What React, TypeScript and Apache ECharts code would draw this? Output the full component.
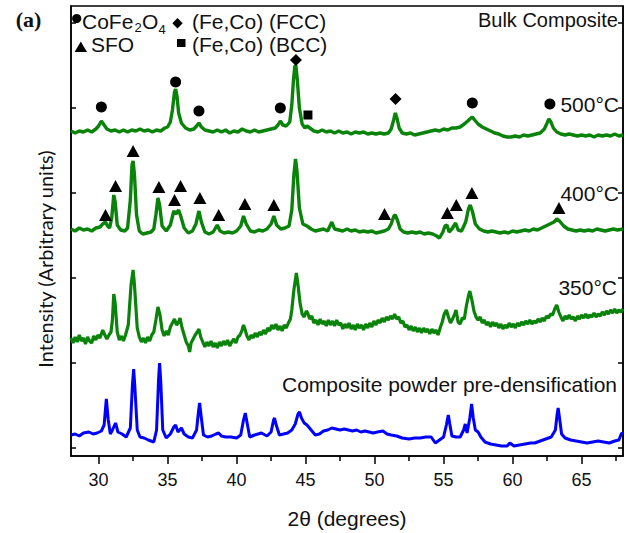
import React, { useEffect, useRef } from "react";
import * as echarts from "echarts";

// 2θ range and ticks
const X_MIN = 28;
const X_MAX = 68;
const xMajorTicks = [30, 35, 40, 45, 50, 55, 60, 65];
const xMinorTicks = [32.5, 37.5, 42.5, 47.5, 52.5, 57.5, 62.5, 67.5];
const Y_MIN = 0;
const Y_MAX = 450;
const yTicks = [8, 93, 178, 263, 348, 433];

// Intensity (arbitrary units, stacked offsets included) vs 2θ
const bulk500: [number, number][] = [
  [28.0, 325], [28.3, 323], [28.6, 325], [28.9, 324], [29.2, 326], [29.5, 324], [29.8, 327], [30.0, 330], [30.2, 335], [30.4, 331],
  [30.6, 327], [30.9, 325], [31.2, 326], [31.5, 324], [31.8, 326], [32.1, 324], [32.4, 326], [32.7, 325], [33.0, 327], [33.3, 325],
  [33.6, 326], [33.9, 324], [34.2, 326], [34.5, 325], [34.8, 328], [35.0, 329], [35.2, 334], [35.35, 346], [35.5, 364], [35.58, 367],
  [35.68, 360], [35.8, 343], [36.0, 333], [36.3, 328], [36.6, 326], [36.9, 327], [37.1, 330], [37.27, 333], [37.45, 329], [37.7, 326],
  [38.0, 325], [38.3, 324], [38.6, 326], [38.9, 324], [39.2, 326], [39.5, 323], [39.8, 325], [40.1, 324], [40.4, 327], [40.7, 325],
  [41.0, 324], [41.3, 326], [41.6, 324], [41.9, 325], [42.2, 326], [42.5, 327], [42.8, 328], [43.0, 331], [43.17, 335], [43.35, 331],
  [43.6, 330], [43.85, 334], [44.0, 351], [44.12, 376], [44.22, 390], [44.3, 390], [44.4, 376], [44.55, 348], [44.75, 332], [44.95, 328],
  [45.1, 330], [45.3, 328], [45.6, 325], [45.9, 324], [46.2, 326], [46.5, 324], [46.8, 325], [47.1, 323], [47.4, 325], [47.7, 323],
  [48.0, 324], [48.3, 322], [48.6, 324], [48.9, 323], [49.2, 324], [49.5, 322], [49.8, 323], [50.1, 322], [50.4, 323], [50.7, 322],
  [51.0, 323], [51.2, 327], [51.38, 336], [51.5, 343], [51.62, 338], [51.78, 328], [52.0, 323], [52.3, 322], [52.6, 323], [52.9, 321],
  [53.2, 322], [53.5, 323], [53.8, 324], [54.1, 325], [54.4, 326], [54.7, 325], [55.0, 327], [55.3, 326], [55.6, 328], [55.9, 328],
  [56.2, 329], [56.5, 332], [56.75, 335], [56.9, 337], [57.08, 339], [57.25, 336], [57.5, 332], [57.8, 329], [58.1, 327], [58.4, 325],
  [58.7, 323], [59.0, 322], [59.3, 320], [59.6, 319], [59.9, 319], [60.2, 320], [60.5, 319], [60.8, 321], [61.1, 320], [61.4, 321],
  [61.7, 322], [62.0, 323], [62.3, 327], [62.5, 333], [62.63, 337], [62.78, 334], [62.95, 328], [63.2, 324], [63.5, 322], [63.8, 321],
  [64.1, 322], [64.4, 321], [64.7, 320], [65.0, 321], [65.3, 320], [65.6, 321], [65.9, 319], [66.2, 321], [66.5, 320], [66.8, 321],
  [67.1, 320], [67.4, 322], [67.7, 320], [68.0, 321],
];

const bulk400: [number, number][] = [
  [28.0, 227], [28.3, 225], [28.6, 228], [28.9, 226], [29.2, 227], [29.5, 225], [29.8, 228], [30.1, 229], [30.3, 232], [30.5, 234],
  [30.65, 230], [30.8, 228], [30.95, 238], [31.1, 261], [31.2, 254], [31.35, 231], [31.6, 226], [31.9, 225], [32.1, 228], [32.3, 256],
  [32.42, 291], [32.5, 295], [32.6, 281], [32.75, 241], [32.95, 225], [33.2, 222], [33.5, 223], [33.8, 224], [34.0, 227], [34.15, 241],
  [34.3, 258], [34.42, 251], [34.6, 230], [34.9, 225], [35.2, 231], [35.45, 245], [35.6, 242], [35.8, 246], [35.95, 240], [36.2, 228],
  [36.5, 223], [36.8, 225], [37.05, 232], [37.27, 245], [37.45, 234], [37.7, 224], [38.0, 222], [38.3, 224], [38.6, 231], [38.8, 225],
  [39.1, 223], [39.4, 224], [39.7, 223], [40.0, 225], [40.3, 230], [40.5, 240], [40.7, 232], [41.0, 225], [41.3, 224], [41.6, 226],
  [41.9, 225], [42.2, 227], [42.5, 232], [42.7, 240], [42.9, 231], [43.2, 227], [43.5, 228], [43.8, 230], [44.0, 246], [44.15, 281],
  [44.27, 297], [44.38, 284], [44.55, 248], [44.8, 232], [45.1, 230], [45.4, 227], [45.7, 225], [46.0, 226], [46.3, 227], [46.6, 225],
  [46.9, 234], [47.1, 227], [47.4, 226], [47.7, 225], [48.0, 227], [48.3, 225], [48.6, 226], [48.9, 224], [49.2, 225], [49.5, 224],
  [49.8, 225], [50.1, 223], [50.4, 224], [50.7, 225], [51.0, 227], [51.2, 232], [51.4, 240], [51.5, 241], [51.65, 236], [51.85, 227],
  [52.1, 224], [52.4, 223], [52.7, 224], [53.0, 223], [53.3, 224], [53.6, 222], [53.9, 223], [54.2, 222], [54.5, 220], [54.7, 218],
  [54.95, 224], [55.1, 230], [55.24, 231], [55.4, 224], [55.6, 227], [55.87, 233], [56.05, 226], [56.3, 225], [56.6, 234], [56.8, 247],
  [56.93, 251], [57.1, 244], [57.3, 232], [57.6, 227], [57.9, 225], [58.2, 224], [58.5, 225], [58.8, 224], [59.1, 223], [59.4, 224],
  [59.7, 223], [60.0, 225], [60.3, 224], [60.6, 225], [60.9, 226], [61.2, 225], [61.5, 227], [61.8, 226], [62.1, 228], [62.4, 230],
  [62.7, 232], [63.0, 234], [63.2, 237], [63.4, 235], [63.7, 230], [64.0, 227], [64.3, 226], [64.6, 225], [64.9, 226], [65.2, 225],
  [65.5, 226], [65.8, 225], [66.1, 227], [66.4, 226], [66.7, 225], [67.0, 226], [67.3, 227], [67.6, 226], [68.0, 227],
];

const bulk350: [number, number][] = [
  [28.0, 118], [28.15, 113], [28.3, 119], [28.45, 114], [28.6, 121], [28.75, 115], [28.9, 118], [29.05, 112], [29.2, 119], [29.35, 115],
  [29.5, 113], [29.65, 120], [29.8, 116], [29.95, 121], [30.1, 118], [30.3, 126], [30.45, 121], [30.6, 117], [30.75, 121], [30.9, 124],
  [31.0, 136], [31.1, 162], [31.2, 153], [31.35, 124], [31.5, 116], [31.65, 120], [31.8, 115], [31.95, 121], [32.15, 131], [32.35, 171],
  [32.5, 186], [32.6, 171], [32.8, 128], [32.95, 119], [33.1, 114], [33.25, 118], [33.4, 113], [33.55, 119], [33.7, 115], [33.85, 121],
  [34.0, 124], [34.15, 136], [34.3, 149], [34.45, 141], [34.6, 126], [34.75, 120], [34.9, 125], [35.05, 121], [35.2, 129], [35.35, 133],
  [35.5, 137], [35.65, 131], [35.8, 134], [35.9, 138], [36.05, 128], [36.2, 121], [36.35, 114], [36.5, 110], [36.6, 104], [36.7, 113],
  [36.85, 117], [37.0, 121], [37.15, 124], [37.27, 127], [37.4, 119], [37.55, 114], [37.7, 109], [37.85, 114], [38.0, 110], [38.15, 115],
  [38.3, 109], [38.45, 113], [38.6, 108], [38.75, 114], [38.9, 110], [39.05, 115], [39.2, 111], [39.35, 116], [39.5, 110], [39.65, 114],
  [39.8, 117], [39.95, 113], [40.1, 119], [40.25, 121], [40.4, 126], [40.5, 131], [40.6, 127], [40.75, 120], [40.9, 116], [41.05, 121],
  [41.2, 118], [41.35, 123], [41.5, 119], [41.65, 124], [41.8, 121], [41.95, 126], [42.1, 122], [42.25, 128], [42.4, 125], [42.55, 131],
  [42.7, 127], [42.85, 132], [43.0, 126], [43.15, 130], [43.3, 125], [43.45, 131], [43.6, 128], [43.75, 133], [43.9, 137], [44.0, 146],
  [44.15, 166], [44.33, 183], [44.45, 171], [44.6, 153], [44.75, 142], [44.9, 139], [45.05, 145], [45.15, 143], [45.3, 137], [45.45, 140],
  [45.6, 133], [45.75, 136], [45.9, 131], [46.05, 137], [46.2, 132], [46.35, 135], [46.5, 130], [46.65, 136], [46.8, 131], [46.95, 135],
  [47.1, 130], [47.25, 136], [47.4, 131], [47.55, 133], [47.7, 127], [47.85, 132], [48.0, 128], [48.15, 133], [48.3, 127], [48.45, 131],
  [48.6, 126], [48.75, 132], [48.9, 128], [49.05, 131], [49.2, 126], [49.35, 132], [49.5, 128], [49.65, 133], [49.8, 129], [49.95, 135],
  [50.1, 131], [50.25, 136], [50.4, 133], [50.55, 138], [50.7, 134], [50.85, 139], [51.0, 136], [51.15, 140], [51.3, 137], [51.45, 142],
  [51.6, 137], [51.75, 139], [51.9, 133], [52.05, 135], [52.2, 129], [52.35, 131], [52.5, 126], [52.65, 130], [52.8, 125], [52.95, 129],
  [53.1, 124], [53.25, 128], [53.4, 123], [53.55, 128], [53.7, 124], [53.85, 127], [54.0, 122], [54.15, 127], [54.3, 123], [54.45, 126],
  [54.6, 121], [54.75, 128], [54.9, 134], [55.05, 142], [55.2, 146], [55.35, 139], [55.5, 133], [55.65, 137], [55.8, 142], [55.9, 146],
  [56.05, 134], [56.2, 132], [56.35, 138], [56.5, 137], [56.65, 150], [56.8, 160], [56.9, 165], [57.05, 156], [57.2, 145], [57.35, 139],
  [57.5, 136], [57.65, 139], [57.8, 133], [57.95, 136], [58.1, 131], [58.25, 134], [58.4, 129], [58.55, 134], [58.7, 130], [58.85, 133],
  [59.0, 128], [59.15, 132], [59.3, 127], [59.45, 131], [59.6, 128], [59.75, 133], [59.9, 129], [60.05, 132], [60.2, 128], [60.35, 133],
  [60.5, 130], [60.65, 134], [60.8, 131], [60.95, 135], [61.1, 132], [61.25, 136], [61.4, 132], [61.55, 135], [61.7, 133], [61.85, 137],
  [62.0, 134], [62.15, 138], [62.3, 135], [62.45, 140], [62.6, 138], [62.75, 142], [62.9, 141], [63.05, 147], [63.2, 151], [63.35, 144],
  [63.5, 139], [63.65, 135], [63.8, 140], [63.95, 137], [64.1, 141], [64.25, 137], [64.4, 139], [64.55, 135], [64.7, 140], [64.85, 137],
  [65.0, 141], [65.15, 138], [65.3, 142], [65.45, 138], [65.6, 141], [65.75, 139], [65.9, 143], [66.05, 139], [66.2, 142], [66.35, 140],
  [66.5, 144], [66.65, 141], [66.8, 145], [66.95, 142], [67.1, 146], [67.25, 143], [67.4, 147], [67.55, 143], [67.7, 146], [67.85, 144],
  [68.0, 147],
];

const powder: [number, number][] = [
  [28.0, 21], [28.3, 22], [28.6, 20], [28.9, 23], [29.3, 24], [29.6, 22], [29.9, 23], [30.2, 25], [30.4, 31], [30.56, 57],
  [30.7, 36], [30.85, 22], [31.0, 26], [31.23, 33], [31.4, 24], [31.7, 22], [32.0, 19], [32.3, 28], [32.45, 71], [32.54, 87],
  [32.62, 71], [32.8, 26], [33.0, 19], [33.3, 18], [33.6, 16], [34.0, 14], [34.2, 26], [34.35, 78], [34.42, 93], [34.5, 76],
  [34.65, 26], [34.9, 18], [35.2, 22], [35.45, 29], [35.58, 31], [35.75, 24], [36.0, 28], [36.2, 22], [36.5, 19], [36.8, 18],
  [37.1, 26], [37.25, 46], [37.32, 53], [37.42, 41], [37.6, 21], [37.9, 19], [38.2, 20], [38.5, 22], [38.7, 23], [38.9, 20],
  [39.2, 19], [39.6, 19], [40.0, 18], [40.3, 21], [40.5, 36], [40.63, 43], [40.75, 34], [40.95, 19], [41.3, 21], [41.8, 23],
  [42.2, 20], [42.5, 24], [42.68, 36], [42.75, 38], [42.85, 32], [43.1, 21], [43.4, 22], [43.7, 23], [44.0, 26], [44.25, 32],
  [44.45, 42], [44.56, 44], [44.7, 38], [44.9, 33], [45.1, 31], [45.4, 26], [45.7, 21], [46.0, 22], [46.3, 25], [46.6, 26],
  [46.9, 28], [47.2, 27], [47.5, 26], [47.8, 27], [48.1, 26], [48.4, 25], [48.7, 26], [49.0, 24], [49.3, 25], [49.6, 24],
  [49.9, 23], [50.2, 24], [50.6, 25], [50.9, 22], [51.2, 21], [51.6, 20], [52.0, 18], [52.5, 17], [52.9, 18], [53.3, 18],
  [53.7, 19], [54.1, 19], [54.4, 13], [54.7, 16], [55.0, 19], [55.2, 31], [55.34, 41], [55.45, 32], [55.6, 20], [55.9, 19],
  [56.2, 19], [56.45, 26], [56.57, 32], [56.7, 23], [56.9, 38], [57.03, 52], [57.15, 38], [57.3, 26], [57.5, 24], [57.7, 19],
  [58.0, 14], [58.4, 12], [58.8, 11], [59.2, 10], [59.6, 10], [59.8, 13], [60.1, 10], [60.5, 11], [60.9, 12], [61.3, 13],
  [61.6, 13], [62.0, 15], [62.4, 17], [62.8, 19], [63.1, 26], [63.22, 41], [63.3, 48], [63.4, 38], [63.55, 22], [63.8, 18],
  [64.2, 16], [64.6, 15], [65.0, 14], [65.4, 13], [65.8, 14], [66.2, 15], [66.6, 14], [67.0, 13], [67.4, 15], [67.7, 16],
  [67.9, 23], [68.0, 22],
];

// Phase markers
const cofe2o4Marks: [number, number][] = [[30.2, 349], [35.58, 374], [37.27, 345], [43.17, 348], [57.08, 353], [62.7, 352]];
const fccMarks: [number, number][] = [[44.3, 396], [51.52, 357]];
const bccMarks: [number, number][] = [[45.17, 341]];
const sfoMarks: [number, number][] = [
  [30.5, 241], [31.23, 270], [32.5, 305], [34.37, 269], [35.5, 256], [35.94, 270], [37.34, 258], [38.7, 241],
  [40.6, 252], [42.7, 251], [50.72, 242], [55.27, 243], [55.92, 251], [57.05, 263], [63.36, 248],
];

const traceLabels = ["500°C", "400°C", "350°C", "Composite powder pre-densification"];

const SANS = "'Liberation Sans', Arial, Helvetica, sans-serif";
const INK = "#111";

function txt(text: string, x: number, y: number, extra: any = {}, more: any = {}) {
  return {
    type: "text",
    x,
    y,
    silent: true,
    z: 100,
    ...more,
    style: {
      text,
      fontSize: 21,
      fontFamily: SANS,
      fill: INK,
      align: "left",
      verticalAlign: "middle",
      ...extra,
    },
  };
}

export default function App() {
  const ref = useRef<HTMLDivElement>(null);

  useEffect(() => {
    if (!ref.current) return;
    const chart = echarts.init(ref.current, undefined, { renderer: "svg" });

    const axisLine = { show: true, lineStyle: { color: "#000", width: 1.5 } };
    const lineSeries = (name: string, data: [number, number][], color: string, width: number) => ({
      name,
      type: "line",
      data,
      showSymbol: false,
      symbol: "none",
      smooth: false,
      lineStyle: { color, width },
      z: 2,
      silent: true,
    });
    const markSeries = (name: string, data: [number, number][], symbol: string, size: any) => ({
      name,
      type: "scatter",
      data,
      symbol,
      symbolSize: size,
      itemStyle: { color: "#000", opacity: 1 },
      z: 5,
      silent: true,
    });

    const option: any = {
      animation: false,
      grid: { left: 71, right: 7, top: 6, bottom: 77, show: true, borderColor: "#000", borderWidth: 1.5, containLabel: false },
      xAxis: [
        {
          type: "value",
          min: X_MIN,
          max: X_MAX,
          position: "bottom",
          axisLine,
          axisTick: { show: true, inside: false, length: 8, customValues: xMajorTicks, lineStyle: { color: "#000", width: 1.5 } },
          axisLabel: { show: true, customValues: xMajorTicks, fontSize: 18, fontFamily: SANS, color: INK, margin: 15 },
          splitLine: { show: false },
        },
        {
          type: "value",
          min: X_MIN,
          max: X_MAX,
          position: "bottom",
          offset: 0,
          axisLine: { show: false },
          axisTick: { show: true, inside: false, length: 5, customValues: xMinorTicks, lineStyle: { color: "#000", width: 1.5 } },
          axisLabel: { show: false },
          splitLine: { show: false },
        },
      ],
      yAxis: [
        {
          type: "value",
          min: Y_MIN,
          max: Y_MAX,
          position: "left",
          axisLine,
          axisTick: { show: true, inside: true, length: 5, customValues: yTicks, lineStyle: { color: "#000", width: 1.5 } },
          axisLabel: { show: false },
          splitLine: { show: false },
        },
        {
          type: "value",
          min: Y_MIN,
          max: Y_MAX,
          position: "right",
          axisLine,
          axisTick: { show: true, inside: true, length: 5, customValues: yTicks, lineStyle: { color: "#000", width: 1.5 } },
          axisLabel: { show: false },
          splitLine: { show: false },
        },
      ],
      series: [
        lineSeries("Composite powder pre-densification", powder, "#0000ff", 3),
        lineSeries("350°C", bulk350, "#0a830a", 3.2),
        lineSeries("400°C", bulk400, "#0a830a", 3.4),
        lineSeries("500°C", bulk500, "#0a830a", 3.4),
        markSeries("CoFe2O4", cofe2o4Marks, "circle", 11),
        markSeries("(Fe,Co) (FCC)", fccMarks, "diamond", [12, 12]),
        markSeries("(Fe,Co) (BCC)", bccMarks, "rect", 9),
        markSeries("SFO", sfoMarks, "triangle", [13, 12]),
      ],
      graphic: [
        txt("(a)", 28.5, 19.5, { align: "center", fontFamily: "'Liberation Serif', 'Times New Roman', serif", fontWeight: "bold", fontSize: 22 }),
        { type: "circle", shape: { cx: 76.7, cy: 18.5, r: 4.6 }, style: { fill: "#000" }, z: 100 },
        txt("CoFe", 82, 21),
        txt("2", 134.5, 27.5, { fontSize: 13 }),
        txt("O", 142, 21),
        txt("4", 158.5, 29, { fontSize: 13 }),
        { type: "polygon", shape: { points: [[177.5, 18], [182.7, 23.3], [177.5, 28.6], [172.3, 23.3]] }, style: { fill: "#000" }, z: 100 },
        txt("(Fe,Co) (FCC)", 192, 21),
        { type: "polygon", shape: { points: [[80.8, 41.5], [87, 52], [74.6, 52]] }, style: { fill: "#000" }, z: 100 },
        txt("SFO", 91, 44),
        { type: "rect", shape: { x: 177, y: 39, width: 8.5, height: 8 }, style: { fill: "#000" }, z: 100 },
        txt("(Fe,Co) (BCC)", 192, 44),
        txt("Bulk Composite", 618, 20, { align: "right", fontSize: 20 }),
        txt(traceLabels[0], 619, 104.5, { align: "right" }),
        txt(traceLabels[1], 619, 193.5, { align: "right" }),
        txt(traceLabels[2], 617, 287.5, { align: "right" }),
        txt(traceLabels[3], 617, 384, { align: "right" }),
        txt(
          "Intensity (Arbitrary units)",
          45,
          259,
          { align: "center", fontFamily: "Lato, 'Open Sans', sans-serif", fontSize: 20 },
          { rotation: Math.PI / 2 }
        ),
        txt("2θ (degrees)", 347, 518, { align: "center" }),
      ],
    };

    chart.setOption(option);
    return () => chart.dispose();
  }, []);

  return (
    <div
      ref={ref}
      style={{ position: "absolute", left: 0, top: 0, width: 630, height: 533 }}
    />
  );
}
